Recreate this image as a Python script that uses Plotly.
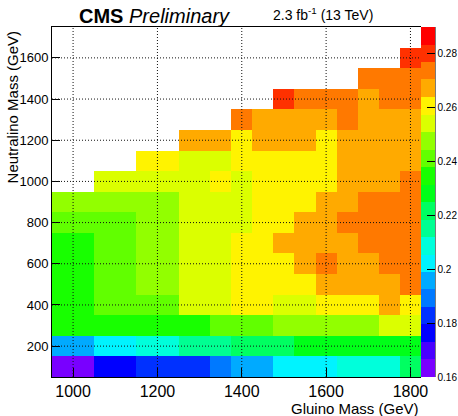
import colorsys
import plotly.graph_objects as go

# Gluino-mass bin edges (GeV) and neutralino-mass bin edges (GeV)
gluino_edges = [950, 1050, 1150, 1250, 1325, 1375, 1425, 1475, 1525,
                1575, 1625, 1675, 1725, 1775, 1825]
neutralino_edges = [50, 150, 250, 350, 450, 550, 650, 750, 850, 950,
                    1050, 1150, 1250, 1350, 1450, 1550, 1650, 1750]

N = None
# Signal efficiency per (neutralino row, gluino column), lowest neutralino mass first
eff_m100 = [0.163, 0.176, 0.183, 0.183, 0.189, 0.196, 0.196, 0.202, 0.202, 0.202, 0.209, 0.209, 0.209, 0.222]
eff_m200 = [0.196, 0.202, 0.209, 0.215, 0.215, 0.222, 0.222, 0.222, 0.228, 0.228, 0.228, 0.228, 0.228, 0.228]
eff_m300 = [0.235, 0.235, 0.235, 0.235, 0.241, 0.241, 0.241, 0.248, 0.248, 0.248, 0.248, 0.248, 0.254, 0.254]
eff_m400 = [0.235, 0.241, 0.241, 0.254, 0.254, 0.261, 0.261, 0.254, 0.254, 0.261, 0.261, 0.261, 0.267, 0.261]
eff_m500 = [0.235, 0.241, 0.248, 0.254, 0.254, 0.261, 0.261, 0.261, 0.261, 0.267, 0.267, 0.267, 0.267, 0.274]
eff_m600 = [0.235, 0.241, 0.248, 0.254, 0.254, 0.261, 0.261, 0.261, 0.267, 0.274, 0.267, 0.267, 0.274, 0.274]
eff_m700 = [0.235, 0.241, 0.248, 0.254, 0.254, 0.261, 0.261, 0.267, 0.267, 0.267, 0.267, 0.274, 0.274, 0.274]
eff_m800 = [0.241, 0.241, 0.248, 0.254, 0.254, 0.254, 0.261, 0.261, 0.267, 0.267, 0.274, 0.274, 0.274, 0.274]
eff_m900 = [0.248, 0.248, 0.248, 0.254, 0.254, 0.254, 0.261, 0.261, 0.261, 0.267, 0.267, 0.274, 0.274, 0.274]
eff_m1000 = [N, 0.254, 0.254, 0.254, 0.261, 0.254, 0.261, 0.261, 0.261, 0.261, 0.267, 0.267, 0.267, 0.274]
eff_m1100 = [N, N, 0.261, 0.254, 0.254, 0.261, 0.261, 0.261, 0.261, 0.261, 0.267, 0.267, 0.267, 0.267]
eff_m1200 = [N, N, N, 0.267, 0.267, 0.261, 0.267, 0.267, 0.267, 0.261, 0.267, 0.267, 0.267, 0.267]
eff_m1300 = [N, N, N, N, N, 0.274, 0.267, 0.267, 0.267, 0.267, 0.274, 0.267, 0.267, 0.267]
eff_m1400 = [N, N, N, N, N, N, N, 0.280, 0.274, 0.274, 0.274, 0.267, 0.274, 0.274]
eff_m1500 = [N, N, N, N, N, N, N, N, N, N, N, 0.274, 0.274, 0.274]
eff_m1600 = [N, N, N, N, N, N, N, N, N, N, N, N, N, 0.280]
eff_m1700 = [N, N, N, N, N, N, N, N, N, N, N, N, N, N]

efficiency = [eff_m100, eff_m200, eff_m300, eff_m400, eff_m500, eff_m600,
              eff_m700, eff_m800, eff_m900, eff_m1000, eff_m1100, eff_m1200,
              eff_m1300, eff_m1400, eff_m1500, eff_m1600, eff_m1700]

x_ticks = [1000, 1200, 1400, 1600, 1800]
y_ticks = [200, 400, 600, 800, 1000, 1200, 1400, 1600]
z_ticks = [0.16, 0.18, 0.20, 0.22, 0.24, 0.26, 0.28]
z_ticktext = ["0.16", "0.18", "0.2", "0.22", "0.24", "0.26", "0.28"]

Z_MIN, Z_MAX, N_CONTOURS = 0.16, 0.29, 20

# Stepped rainbow palette (violet -> red), one flat colour per contour level
def contour_color(k):
    idx = int((k + 0.99) * 50 / N_CONTOURS)
    hue = (280.0 - idx * 280.0 / 49.0) / 360.0
    r, g, b = colorsys.hls_to_rgb(hue, 0.5, 1.0)
    return "rgb({:d},{:d},{:d})".format(round(r * 255), round(g * 255), round(b * 255))

colorscale = []
for k in range(N_CONTOURS):
    c = contour_color(k)
    colorscale.append([k / N_CONTOURS, c])
    colorscale.append([(k + 1) / N_CONTOURS, c])

FONT = "Liberation Sans, Arial, Helvetica, sans-serif"

fig = go.Figure(go.Heatmap(
    x=gluino_edges,
    y=neutralino_edges,
    z=efficiency,
    zmin=Z_MIN,
    zmax=Z_MAX,
    colorscale=colorscale,
    hoverongaps=False,
    colorbar=dict(
        x=1.0, xanchor="left", xpad=0,
        y=0.5, yanchor="middle", ypad=0,
        len=1.0, lenmode="fraction",
        thickness=14, thicknessmode="pixels",
        outlinewidth=0,
        tickvals=z_ticks, ticktext=z_ticktext,
        ticks="inside", ticklen=8, tickcolor="black", tickwidth=1,
        tickfont=dict(family=FONT, size=10, color="black"),
    ),
))

# Dotted grid drawn on top of the histogram
shapes = []
for xv in x_ticks:
    shapes.append(dict(type="line", xref="x", yref="paper", x0=xv, x1=xv, y0=0, y1=1,
                       line=dict(color="#111", width=1, dash="1px,2px"), layer="above"))
for yv in y_ticks:
    shapes.append(dict(type="line", xref="paper", yref="y", x0=0, x1=1, y0=yv, y1=yv,
                       line=dict(color="#111", width=1, dash="1px,2px"), layer="above"))
# right-hand axis line of the palette
shapes.append(dict(type="line", xref="paper", yref="paper", x0=1.038, x1=1.038, y0=0, y1=1,
                   line=dict(color="black", width=1)))

fig.update_layout(
    width=458, height=416,
    margin=dict(l=52, r=37, t=27, b=39, autoexpand=False),
    paper_bgcolor="white", plot_bgcolor="white",
    font=dict(family=FONT, color="black"),
    shapes=shapes,
    xaxis=dict(
        range=[950, 1825], tickvals=x_ticks, ticks="inside", ticklen=9,
        tickcolor="black", tickwidth=1, showgrid=False, zeroline=False,
        showline=True, linecolor="black", linewidth=1, mirror=True,
        tickfont=dict(family=FONT, size=16, color="black"),
    ),
    yaxis=dict(
        range=[50, 1750], tickvals=y_ticks, ticks="inside", ticklen=8,
        tickcolor="black", tickwidth=1, showgrid=False, zeroline=False,
        showline=True, linecolor="black", linewidth=1, mirror=False,
        tickfont=dict(family=FONT, size=13, color="black"),
    ),
    annotations=[
        dict(text="<b>CMS</b> <i>Preliminary</i>", xref="paper", yref="paper",
             x=0.067, y=1.031, xanchor="left", yanchor="middle", showarrow=False,
             font=dict(family=FONT, size=20, color="black")),
        dict(text="2.3 fb<sup>-1</sup> (13 TeV)", xref="paper", yref="paper",
             x=0.875, y=1.037, xanchor="right", yanchor="middle", showarrow=False,
             font=dict(family=FONT, size=14, color="black")),
        dict(text="Gluino Mass (GeV)", xref="paper", yref="paper",
             x=1.0, y=-0.089, xanchor="right", yanchor="middle", showarrow=False,
             font=dict(family=FONT, size=15, color="black")),
        dict(text="Neutralino Mass (GeV)", xref="paper", yref="paper",
             x=-0.106, y=0.997, xanchor="center", yanchor="top", showarrow=False,
             textangle=-90, font=dict(family=FONT, size=15, color="black")),
    ],
)

fig.write_html("out.html")
